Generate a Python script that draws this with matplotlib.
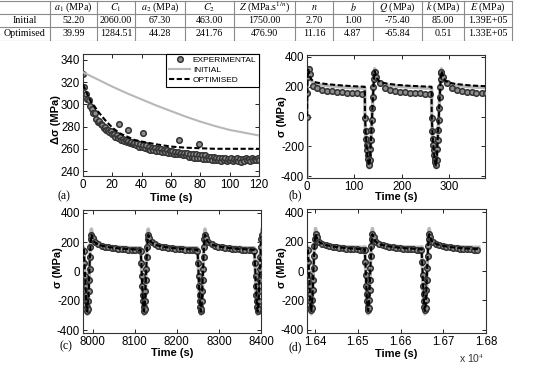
import matplotlib
matplotlib.use('Agg')
import matplotlib.pyplot as plt
import numpy as np

plt.rcParams['font.family'] = ['Liberation Sans', 'DejaVu Sans']
plt.rcParams['mathtext.fontset'] = 'stix'
plt.rcParams['axes.unicode_minus'] = False

# ---- table ----
headers = ['', r'$a_1$ (MPa)', r'$C_1$', r'$a_2$ (MPa)', r'$C_2$', r'$Z$ (MPa.s$^{1/n}$)',
           r'$n$', r'$b$', r'$Q$ (MPa)', r'$k$ (MPa)', r'$E$ (MPa)']
row_initial = ['Initial', '52.20', '2060.00', '67.30', '463.00', '1750.00', '2.70', '1.00',
               '-75.40', '85.00', '1.39E+05']
row_optim = ['Optimised', '39.99', '1284.51', '44.28', '241.76', '476.90', '11.16', '4.87',
             '-65.84', '0.51', '1.33E+05']

# ---- (a) stress amplitude vs time ----
exp_a_t = np.arange(0, 121)
exp_a_s = [327, 316, 309, 305, 304, 299, 296, 292, 292, 287, 284,
           285, 282, 281, 279, 280, 277, 277, 275, 276, 273,
           273, 271, 272, 270, 271, 268, 269, 267, 268, 266,
           267, 265, 266, 264, 265, 263, 265, 262, 264, 262,
           263, 261, 263, 260, 262, 259, 261, 259, 261, 258,
           260, 258, 260, 257, 259, 257, 259, 256, 258, 256,
           258, 255, 257, 255, 257, 255, 256, 254, 256, 254,
           256, 253, 255, 253, 255, 252, 255, 252, 254, 252,
           254, 251, 254, 251, 253, 251, 253, 250, 253, 250,
           252, 250, 252, 249, 252, 250, 252, 249, 251, 250,
           252, 249, 251, 250, 252, 249, 251, 248, 251, 249,
           252, 250, 251, 249, 252, 250, 251, 250, 252, 250]
outl_a_t = [24.8, 30.5, 41, 65.5, 79.3]
outl_a_s = [282, 277, 274, 268, 264]
init_a_t = [0, 10, 20, 30, 40, 50, 60, 70, 80, 90, 100, 110, 120]
init_a_s = [329, 322.5, 316, 310, 304.5, 299, 294, 289, 284.5, 280.5, 277, 274.5, 272]
opt_a_t = [0, 2, 4, 6, 8, 10, 15, 20, 25, 30, 35, 40, 50, 60, 70, 80, 90, 100, 110, 120]
opt_a_s = [318, 312, 306, 301, 298, 294, 286, 279, 274, 271, 268, 266.5, 264, 262, 261,
           260.5, 260, 260, 260, 260]

# ---- (b) first cycles ----
b_starts = [122, 263]
b_exp_first_t = [0, 0.7, 1.4, 2.5, 4.5, 7, 12, 22, 32, 43, 53, 64, 74, 85, 95, 106, 116]
b_exp_first_s = [0, 160, 268, 318, 322, 285, 205, 189, 180, 172, 168, 165, 162, 160, 158, 156, 154]
b_exp_rel_t = [1, 2, 3, 4, 5, 6, 7, 8, 9, 11, 12, 13, 14, 15, 16, 17, 18, 19, 20, 21,
               24, 32, 43, 53, 64, 74, 85, 95, 106, 116, 127, 137]
b_exp_rel_s = [-12, -100, -150, -190, -225, -260, -285, -305, -326,
               -290, -220, -155, -90, -25, 55, 130, 200, 255, 290, 300,
               268, 222, 192, 180, 172, 167, 164, 161, 158, 156, 154, 152]
b_opt_first_t = [0, 0.5, 1.2, 2.5, 4, 6, 9, 14, 20, 40, 60, 80, 100, 122]
b_opt_first_s = [0, 150, 270, 315, 300, 270, 250, 235, 228, 218, 212, 207, 203, 200]
b_opt_rel_t = [0.5, 2, 4, 6, 8, 9.5, 11, 13, 15, 17, 19, 21, 23, 26, 30, 36, 50, 70, 90, 110, 130, 141]
b_opt_rel_s = [0, -110, -200, -270, -310, -330, -290, -160, -30, 110, 230, 305,
               285, 255, 238, 228, 219, 212, 207, 204, 201, 200]
b_init_first_t = [0, 0, 0.5, 1.2, 2.5, 4, 6, 9, 14, 20, 40, 60, 80, 100, 122]
b_init_first_s = [-450, 0, 150, 275, 325, 300, 262, 240, 225, 218, 208, 202, 197, 193, 190]
b_init_rel_s = [0, -120, -215, -285, -325, -345, -300, -165, -30, 115, 240, 320,
                290, 250, 230, 220, 210, 203, 198, 195, 191, 190]

# ---- (c), (d) stabilised cycles (same cycle shape) ----
c_starts = [7844, 7979, 8114, 8249, 8384]
d_starts = [16383, 16516, 16649]
cd_exp_rel_t = [0, 1.5, 3, 4, 5, 6, 7, 8, 9.5, 10.5, 11.5, 12.5, 13.5, 14.5, 15.5, 16.5,
                18, 21, 26, 34, 42, 50, 58, 66, 74, 82, 90, 98, 106, 114, 122, 130]
cd_exp_rel_s = [143, 60, -30, -100, -160, -205, -245, -268, -255, -200, -130, -60, 20, 100,
                170, 220, 250, 230, 200, 185, 176, 170, 165, 162, 158, 155, 153, 151, 149,
                147, 146, 145]
cd_opt_rel_t = [0, 2, 4, 6, 8, 10, 12, 14, 16, 18, 20, 24, 30, 40, 60, 80, 100, 120, 134]
cd_opt_rel_s = [148, 40, -120, -220, -272, -225, -90, 70, 195, 252, 235, 205, 190, 178,
                166, 159, 154, 151, 148]
cd_init_rel_s = [162, 45, -135, -250, -293, -245, -100, 80, 225, 290, 258, 215, 197, 184,
                 173, 167, 164, 162, 162]


def build(starts, rel_t, rel_s, first_t=(), first_s=()):
    t = list(first_t)
    s = list(first_s)
    for st in starts:
        t += [st + r for r in rel_t]
        s += list(rel_s)
    return t, s


exp_style = dict(ls='none', marker='o', ms=4, mfc='#8e8e8e', mec='#333333', mew=1.1)
opt_style = dict(color='k', lw=1.5, ls='--', dashes=(2.5, 1.2))
init_col = '#b8b8b8'


def style(ax):
    ax.tick_params(direction='in', length=3, width=0.6, top=True, right=True,
                   labelsize=8.3, pad=2)
    for sp in ax.spines.values():
        sp.set_linewidth(0.8)
        sp.set_color('#333333')


fig = plt.figure(figsize=(5.38, 3.66), dpi=100)
W, H = 538, 366


def px_axes(x0, y0, x1, y1):
    return fig.add_axes([x0 / W, 1 - y1 / H, (x1 - x0) / W, (y1 - y0) / H])


# table
tab = fig.add_axes([0, 1 - 41 / H, 1, 41 / H])
tab.set_xlim(0, W)
tab.set_ylim(41, 0)
tab.axis('off')
col_edges = [0, 50, 97, 135, 185, 234, 295, 333, 373, 422, 464, 512]
row_edges = [0.5, 14, 27, 40.5]
for y in row_edges:
    tab.plot([0, 512], [y, y], color='#8a8a8a', lw=0.8)
for x in col_edges[1:]:
    tab.plot([x, x], [0.5, 40.5], color='#8a8a8a', lw=0.8)
for row, yc in zip([headers, row_initial, row_optim], [7.3, 20.5, 33.7]):
    for i, txt in enumerate(row):
        xc = (col_edges[i] + col_edges[i + 1]) / 2
        tab.text(xc, yc, txt, ha='center', va='center', fontsize=7.2,
                 family='Liberation Serif')

# (a)
ax = px_axes(83, 54, 259, 176)
ax.plot(exp_a_t, exp_a_s, label='EXPERIMENTAL', zorder=2, **exp_style)
ax.plot(outl_a_t, outl_a_s, zorder=2, **exp_style)
ax.plot(init_a_t, init_a_s, color=init_col, lw=1.5, label='INITIAL', zorder=3)
ax.plot(opt_a_t, opt_a_s, label='OPTIMISED', zorder=4, **opt_style)
ax.set_xlim(0, 120)
ax.set_ylim(235.5, 345.4)
ax.set_xticks([0, 20, 40, 60, 80, 100, 120])
ax.set_yticks([240, 260, 280, 300, 320, 340])
style(ax)
leg = ax.legend(loc='upper right', fontsize=6, borderaxespad=0, fancybox=False,
                edgecolor='k', framealpha=1, handlelength=2.6, handletextpad=0.3,
                borderpad=0.3, labelspacing=0.25)
leg.get_frame().set_linewidth(0.8)
ax.set_xlabel('Time (s)', fontsize=8, fontweight='bold', va='top')
ax.xaxis.set_label_coords(0.5, -0.137)
ax.set_ylabel('Δσ (MPa)', fontsize=8, fontweight='bold')
ax.yaxis.set_label_coords(-0.127, 0.46)

# (b)
ax = px_axes(307, 55, 485, 178)
t, s = build(b_starts, b_opt_rel_t, b_init_rel_s, b_init_first_t, b_init_first_s)
ax.plot(t, s, color=init_col, lw=2.5, zorder=2)
t, s = build(b_starts, b_exp_rel_t, b_exp_rel_s, b_exp_first_t, b_exp_first_s)
ax.plot(t, s, zorder=3, **exp_style)
t, s = build(b_starts, b_opt_rel_t, b_opt_rel_s, b_opt_first_t, b_opt_first_s)
ax.plot(t, s, zorder=4, **opt_style)
ax.set_xlim(0, 376)
ax.set_ylim(-413, 413)
ax.set_xticks([0, 100, 200, 300])
ax.set_yticks([-400, -200, 0, 200, 400])
style(ax)
ax.set_xlabel('Time (s)', fontsize=8, fontweight='bold', va='top')
ax.xaxis.set_label_coords(0.5, -0.111)
ax.set_ylabel('σ (MPa)', fontsize=8, fontweight='bold')
ax.yaxis.set_label_coords(-0.112, 0.5)

# (c)
ax = px_axes(83, 210, 261, 333)
t, s = build(c_starts, cd_opt_rel_t, cd_init_rel_s)
ax.plot(t, s, color=init_col, lw=2.5, zorder=2)
t, s = build(c_starts, cd_exp_rel_t, cd_exp_rel_s)
ax.plot(t, s, zorder=3, **exp_style)
t, s = build(c_starts, cd_opt_rel_t, cd_opt_rel_s)
ax.plot(t, s, zorder=4, **opt_style)
ax.set_xlim(7977, 8400)
ax.set_ylim(-420.5, 420.5)
ax.set_xticks([8000, 8100, 8200, 8300, 8400])
ax.set_yticks([-400, -200, 0, 200, 400])
style(ax)
ax.set_xlabel('Time (s)', fontsize=8, fontweight='bold', va='top')
ax.xaxis.set_label_coords(0.5, -0.124)
ax.set_ylabel('σ (MPa)', fontsize=8, fontweight='bold')
ax.yaxis.set_label_coords(-0.115, 0.53)

# (d)
ax = px_axes(307, 209, 486, 333)
t, s = build(d_starts, cd_opt_rel_t, cd_init_rel_s)
ax.plot(t, s, color=init_col, lw=2.5, zorder=2)
t, s = build(d_starts, cd_exp_rel_t, cd_exp_rel_s)
ax.plot(t, s, zorder=3, **exp_style)
t, s = build(d_starts, cd_opt_rel_t, cd_opt_rel_s)
ax.plot(t, s, zorder=4, **opt_style)
ax.set_xlim(16381, 16800)
ax.set_ylim(-423, 423)
d_ticks = [16400, 16500, 16600, 16700, 16800]
ax.set_xticks(d_ticks)
ax.set_xticklabels(['%.2f' % (v / 1e4) for v in d_ticks])
ax.set_yticks([-400, -200, 0, 200, 400])
style(ax)
ax.set_xlabel('Time (s)', fontsize=8, fontweight='bold', va='top')
ax.xaxis.set_label_coords(0.5, -0.131)
ax.set_ylabel('σ (MPa)', fontsize=8, fontweight='bold')
ax.yaxis.set_label_coords(-0.112, 0.53)

fig.text(472 / W, 1 - 359 / H, r'x 10$^{4}$', fontsize=7.5, ha='center', va='center',
         color='#333333')

# panel labels
for lab, x, y in [('(a)', 64, 196), ('(b)', 295, 195), ('(c)', 66, 346), ('(d)', 295, 347)]:
    fig.text(x / W, 1 - y / H, lab, fontsize=8.5, family='Liberation Serif',
             ha='center', va='center')

fig.savefig('out.png', dpi=100)
